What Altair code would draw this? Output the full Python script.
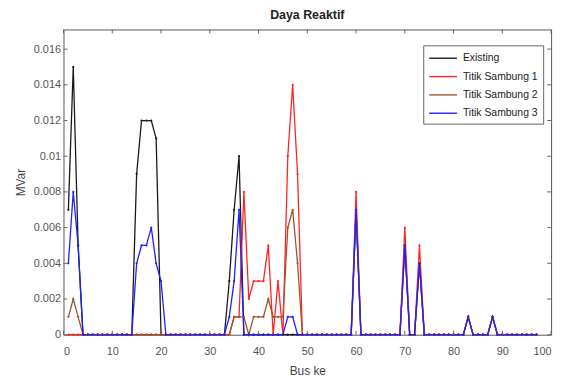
import altair as alt
import pandas as pd

# ---- data ----
buses = list(range(1, 98))
series_names = ["Existing", "Titik Sambung 1", "Titik Sambung 2", "Titik Sambung 3"]
series_colors = ["#1a1a1a", "#ff2424", "#a0522d", "#1f1fff"]

existing_bus = [1, 2, 3, 15, 16, 17, 18, 19, 34, 35, 36, 60, 70, 73, 83, 88]
existing_val = [0.007, 0.015, 0.005, 0.009, 0.012, 0.012, 0.012, 0.011,
                0.003, 0.007, 0.010, 0.007, 0.005, 0.004, 0.001, 0.001]

ts1_bus = [35, 36, 37, 38, 39, 40, 41, 42, 44, 46, 47, 48, 60, 70, 73, 83, 88]
ts1_val = [0.001, 0.001, 0.008, 0.002, 0.003, 0.003, 0.003, 0.005, 0.003,
           0.010, 0.014, 0.009, 0.008, 0.006, 0.005, 0.001, 0.001]

ts2_bus = [1, 2, 3, 35, 36, 37, 39, 40, 41, 42, 43, 44, 45, 46, 47, 48,
           60, 70, 73, 83, 88]
ts2_val = [0.001, 0.002, 0.001, 0.001, 0.001, 0.001, 0.001, 0.001, 0.001,
           0.002, 0.001, 0.001, 0.001, 0.006, 0.007, 0.004,
           0.007, 0.005, 0.004, 0.001, 0.001]

ts3_bus = [1, 2, 3, 15, 16, 17, 18, 19, 20, 34, 35, 36, 46, 47, 60, 70, 73, 83, 88]
ts3_val = [0.004, 0.008, 0.005, 0.004, 0.005, 0.005, 0.006, 0.004, 0.003,
           0.001, 0.003, 0.007, 0.001, 0.001, 0.007, 0.005, 0.004, 0.001, 0.001]

x_ticks = [0, 10, 20, 30, 40, 50, 60, 70, 80, 90, 100]
y_ticks = [0, 0.002, 0.004, 0.006, 0.008, 0.010, 0.012, 0.014, 0.016]

rows = []
for name, bs, vs in zip(series_names,
                        [existing_bus, ts1_bus, ts2_bus, ts3_bus],
                        [existing_val, ts1_val, ts2_val, ts3_val]):
    d = dict(zip(bs, vs))
    for b in buses:
        rows.append({"bus": b, "value": d.get(b, 0.0), "series": name})
df = pd.DataFrame(rows)
xt = pd.DataFrame({"bus": x_ticks})
yt = pd.DataFrame({"value": y_ticks})

W, H = 492, 308
FONT = "Liberation Sans"
x_scale = alt.Scale(domain=[0, 100], nice=False, zero=False)
y_scale = alt.Scale(domain=[0, 0.0171], nice=False)
x_axis = alt.Axis(values=x_ticks, format="d", title="Bus ke",
                  labelPadding=11, titlePadding=9)
y_axis = alt.Axis(values=y_ticks, format="~g", title="MVar",
                  labelPadding=3, titlePadding=6)

color_scale = alt.Scale(domain=series_names, range=series_colors)
legend = alt.Legend(
    title=None, orient="none", legendX=363, legendY=16,
    symbolType="M-1,0H3", symbolSize=196, symbolStrokeWidth=1.4,
    labelFont=FONT, labelFontSize=10.5, labelColor="#222",
    labelOffset=19, rowPadding=4.5, padding=5,
    strokeColor="#666", fillColor="white",
)

x_enc = alt.X("bus:Q", scale=x_scale, axis=x_axis)
y_enc = alt.Y("value:Q", scale=y_scale, axis=y_axis)

base = alt.Chart(df)
lines = base.mark_line(strokeWidth=1.3).encode(
    x=x_enc, y=y_enc,
    color=alt.Color("series:N", scale=color_scale, legend=legend),
)
points = base.mark_point(filled=True, size=5, opacity=1).encode(
    x=x_enc, y=y_enc,
    color=alt.Color("series:N", scale=color_scale, legend=legend),
)

tick_col = "#666"
xb = alt.Chart(xt).mark_rule(color=tick_col).encode(
    x=x_enc, y=alt.value(H), y2=alt.value(H - 4))
xtop = alt.Chart(xt).mark_rule(color=tick_col).encode(
    x=x_enc, y=alt.value(0), y2=alt.value(4))
yl = alt.Chart(yt).mark_rule(color=tick_col).encode(
    y=y_enc, x=alt.value(0), x2=alt.value(4))
yr = alt.Chart(yt).mark_rule(color=tick_col).encode(
    y=y_enc, x=alt.value(W), x2=alt.value(W - 4))

chart = alt.layer(lines, points, xb, xtop, yl, yr).properties(
    width=W, height=H,
    title=alt.TitleParams("Daya Reaktif", anchor="middle", fontSize=12.5,
                          fontWeight="bold", font=FONT, color="#222",
                          offset=8),
    autosize=alt.AutoSizeParams(type="none"),
    padding={"left": 56, "top": 20, "right": 10, "bottom": 43},
).configure_view(
    stroke="#555", strokeWidth=1
).configure_axis(
    grid=False, ticks=False, domain=False,
    labelFont=FONT, labelFontSize=11, labelColor="#555",
    titleFont=FONT, titleFontSize=12, titleColor="#444", titleFontWeight="normal",
)

chart.save("out.html", embed_options={"renderer": "svg", "actions": False})
